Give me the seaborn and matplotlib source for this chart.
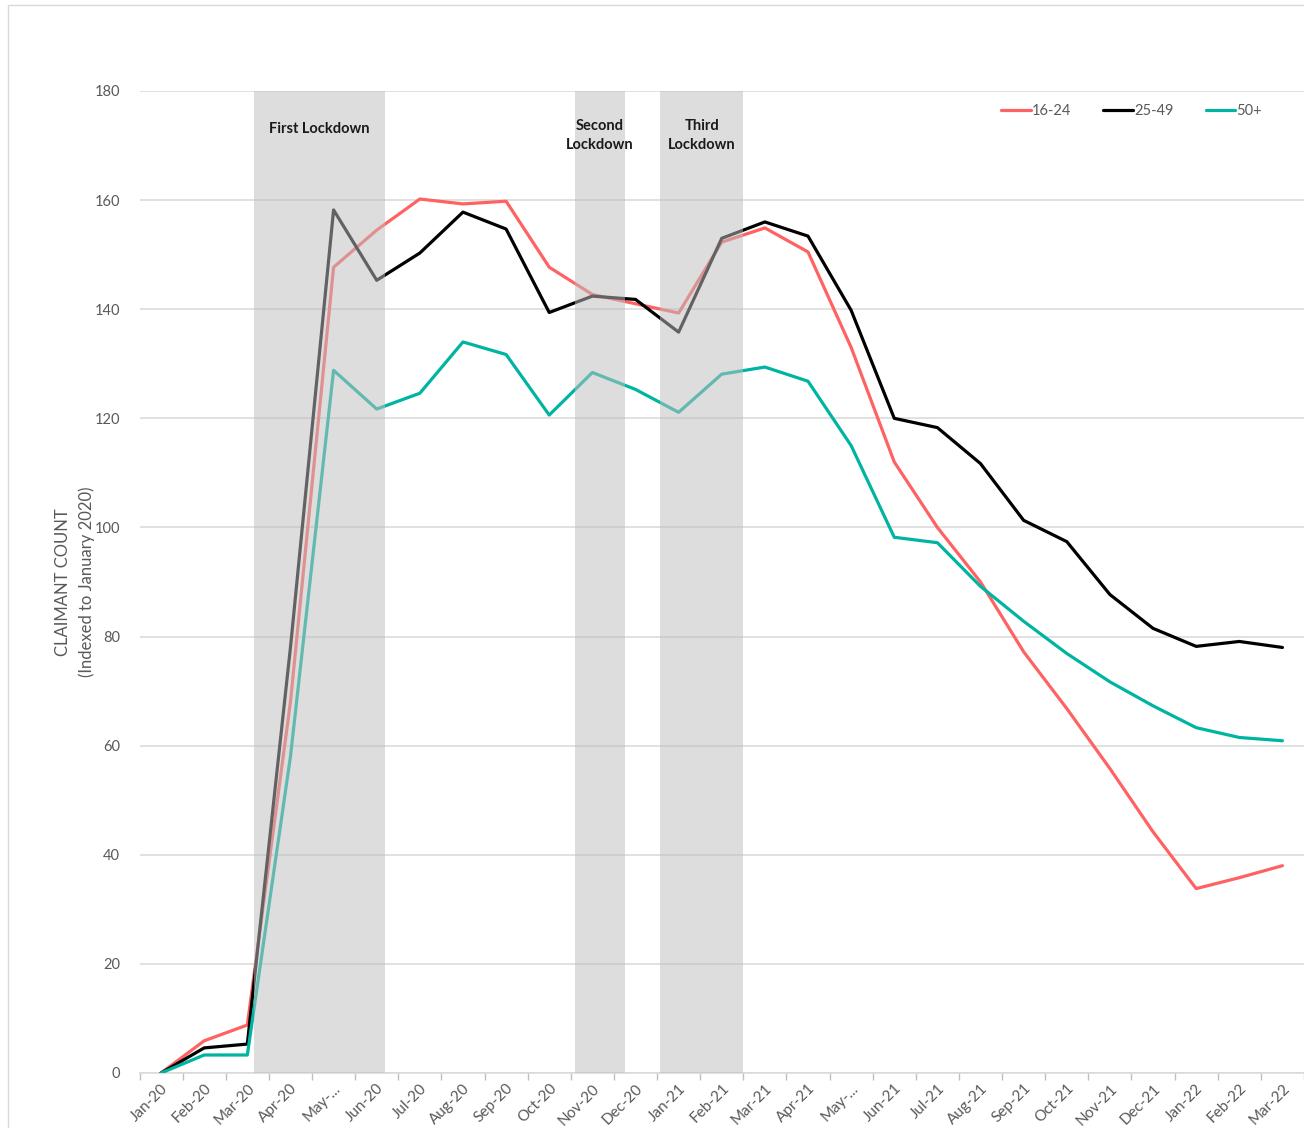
import matplotlib
matplotlib.use("Agg")
import matplotlib.pyplot as plt
from matplotlib.lines import Line2D
from matplotlib.patches import Rectangle
import numpy as np
import pandas as pd
import seaborn as sns

months = ["Jan-20", "Feb-20", "Mar-20", "Apr-20", "May-...", "Jun-20", "Jul-20",
          "Aug-20", "Sep-20", "Oct-20", "Nov-20", "Dec-20", "Jan-21", "Feb-21",
          "Mar-21", "Apr-21", "May-...", "Jun-21", "Jul-21", "Aug-21", "Sep-21",
          "Oct-21", "Nov-21", "Dec-21", "Jan-22", "Feb-22", "Mar-22"]

age_16_24 = [0, 5.9, 8.8, 68, 147.7, 154.5, 160.2, 159.3, 159.8, 147.7, 142.7,
             141.0, 139.3, 152.3, 154.9, 150.5, 133.0, 112.0, 100.0, 90.0, 77.2,
             66.8, 55.8, 44.2, 33.8, 35.8, 38.0]
age_25_49 = [0, 4.6, 5.3, 78, 158.2, 145.3, 150.3, 157.8, 154.7, 139.4, 142.4,
             141.8, 135.8, 153.0, 156.0, 153.4, 139.8, 120.0, 118.3, 111.7, 101.3,
             97.4, 87.7, 81.5, 78.2, 79.1, 78.0]
age_50_plus = [0, 3.3, 3.3, 58, 128.8, 121.7, 124.6, 134.0, 131.7, 120.6, 128.4,
               125.3, 121.1, 128.1, 129.4, 126.8, 115.0, 98.2, 97.2, 89.2, 82.8,
               76.9, 71.7, 67.3, 63.3, 61.5, 60.9]

series_names = ["16-24", "25-49", "50+"]
series_colors = ["#FF6262", "#000000", "#00B4A2"]

# lockdown periods as (start, end) positions on the month axis
lockdowns = [(2.15, 5.19), (9.6, 10.76), (11.57, 13.5)]
lockdown_labels = ["First Lockdown", "Second\nLockdown", "Third\nLockdown"]

sns.set_theme(style="white")
plt.rcParams["font.family"] = ["Lato", "DejaVu Sans"]

rows = []
for name, vals in zip(series_names, [age_16_24, age_25_49, age_50_plus]):
    for i, v in enumerate(vals):
        rows.append({"idx": i, "value": v, "age": name})
df = pd.DataFrame(rows)

fig = plt.figure(figsize=(13.04, 11.28), dpi=100)
ax = fig.add_axes([139.5 / 1304, 55 / 1128, 1 - 139.5 / 1304, 982 / 1128])

sns.lineplot(data=df, x="idx", y="value", hue="age", palette=series_colors,
             hue_order=series_names, linewidth=2.3, legend=False, ax=ax, zorder=3)

for (x0, x1), lab in zip(lockdowns, lockdown_labels):
    ax.axvspan(x0, x1, ymin=0, ymax=1, color=(0.745, 0.745, 0.745), alpha=0.52,
               lw=0, zorder=4)
    ax.text((x0 + x1) / 2, 173.0 if "\n" not in lab else 171.8, lab,
            ha="center", va="center", fontsize=10.5, fontweight="bold",
            color="#1a1a1a", zorder=5, linespacing=1.45)

ax.set_xlim(-0.5, 26.46)
ax.set_ylim(0, 180)
ax.set_yticks(np.arange(0, 181, 20))
ax.yaxis.grid(True, color="#d9d9d9", lw=1.1)
ax.set_axisbelow(True)

ax.set_xticks(range(len(months)))
ax.set_xticklabels(months, rotation=45, ha="right", rotation_mode="anchor")
ax.set_xticks(np.arange(-0.5, 27, 1), minor=True)
ax.tick_params(axis="x", which="major", length=0, pad=6, labelsize=11,
               labelcolor="#595959")
ax.tick_params(axis="x", which="minor", length=5, color="#bfbfbf", width=1,
               bottom=True)
ax.tick_params(axis="y", length=0, pad=14, labelsize=10.5, labelcolor="#595959")

for s in ["top", "right", "left"]:
    ax.spines[s].set_visible(False)
ax.spines["bottom"].set_color("#d9d9d9")
ax.spines["bottom"].set_linewidth(1.1)

ax.set_xlabel("")
ax.set_ylabel("CLAIMANT COUNT\n(Indexed to January 2020)", fontsize=12,
              color="#595959", labelpad=0, linespacing=1.5)

handles = [Line2D([0], [0], color=c, lw=2.3) for c in series_colors]
leg = ax.legend(handles, series_names, loc="upper right", ncol=3, frameon=False,
                fontsize=10.5, handlelength=2.0, handletextpad=0.1,
                columnspacing=2.2, bbox_to_anchor=(0.975, 1.0))
for t in leg.get_texts():
    t.set_color("#595959")

fig.patches.append(Rectangle((8 / 1304, -0.1), 1.2, 1.1 - 5 / 1128,
                             transform=fig.transFigure, fill=False,
                             edgecolor="#d9d9d9", lw=1))

fig.savefig("out.png", dpi=100)
